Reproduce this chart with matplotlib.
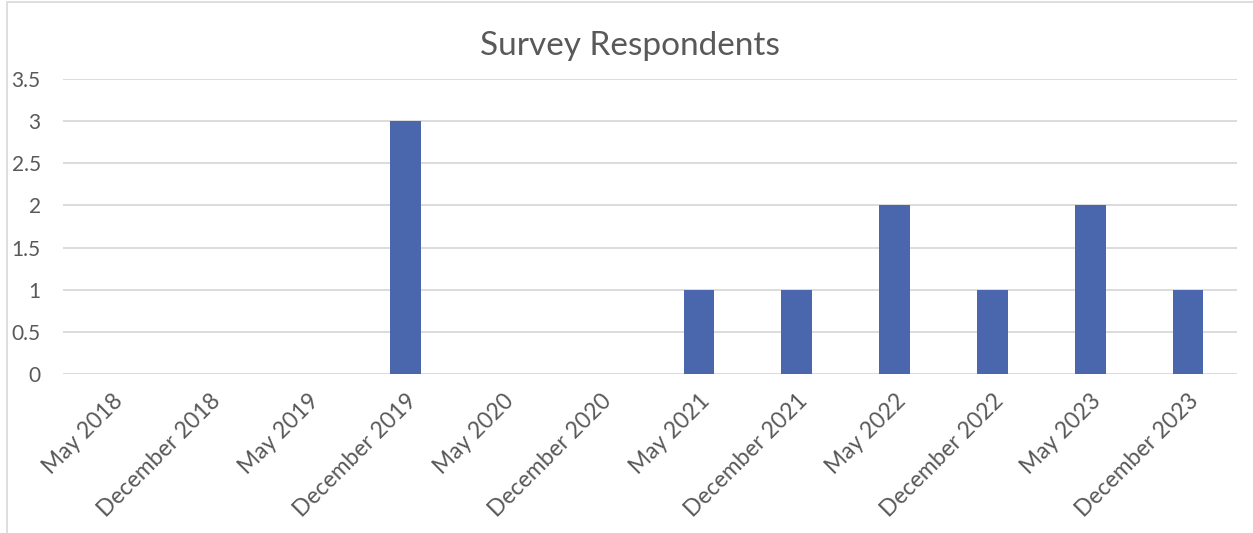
import matplotlib.pyplot as plt
from matplotlib.patches import Rectangle

# data
periods = ["May 2018", "December 2018", "May 2019", "December 2019", "May 2020",
           "December 2020", "May 2021", "December 2021", "May 2022",
           "December 2022", "May 2023", "December 2023"]
respondents = [0, 0, 0, 3, 0, 0, 1, 1, 2, 1, 2, 1]
y_ticks = [0, 0.5, 1, 1.5, 2, 2.5, 3, 3.5]
y_tick_labels = ["0", "0.5", "1", "1.5", "2", "2.5", "3", "3.5"]

plt.rcParams['font.family'] = ['Lato', 'DejaVu Sans']
text_grey = '#595959'

fig = plt.figure(figsize=(12.53, 5.33), dpi=100)
# plot area: x 63..1237 px, y 79..374 px
ax = fig.add_axes([63 / 1253, 1 - 374 / 533, 1174 / 1253, 295 / 533])

xs = range(len(periods))
ax.bar(xs, respondents, width=0.315, color='#4A66AC', zorder=3)

ax.set_xlim(-0.5, len(periods) - 0.5)
ax.set_ylim(0, 3.5)
ax.set_yticks(y_ticks)
ax.set_yticklabels(y_tick_labels, fontsize=15, color=text_grey)
ax.set_xticks(list(xs))
ax.set_xticklabels(periods, fontsize=16.5, color=text_grey, rotation=45,
                   ha='right', va='top', rotation_mode='anchor')
ax.tick_params(axis='both', length=0)
ax.tick_params(axis='y', pad=16)
ax.tick_params(axis='x', pad=12)
ax.grid(axis='y', color='#D9D9D9', linewidth=1.3, zorder=0)
for s in ax.spines.values():
    s.set_visible(False)

fig.text(630 / 1253, 1 - 46 / 533, "Survey Respondents", ha='center', va='center',
         fontsize=24, color=text_grey)

# chart frame (light grey, left and top visible)
fig.patches.append(Rectangle((7 / 1253, -0.01), 1.1, 1 - 2 / 533 + 0.01,
                             transform=fig.transFigure, fill=False,
                             edgecolor='#D9D9D9', linewidth=1.2))

fig.savefig("out.png", dpi=100)
